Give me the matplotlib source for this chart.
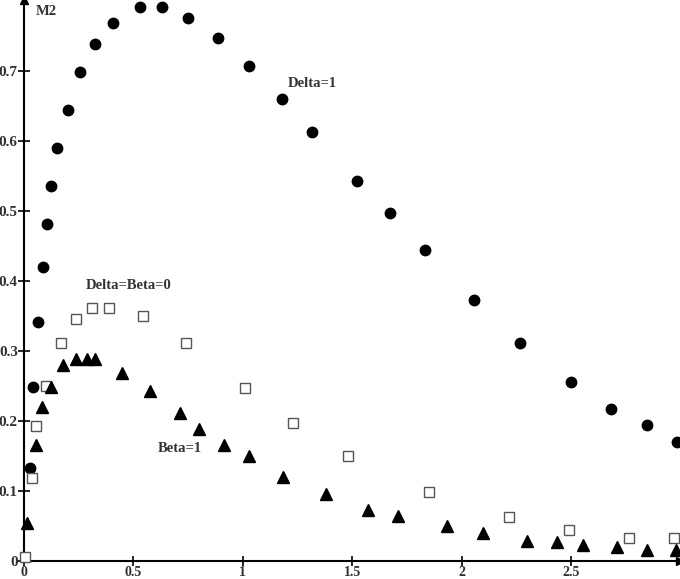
import matplotlib
matplotlib.use("Agg")
import matplotlib.pyplot as plt

# Delta=1 (filled circles)
d1_x = [0.027, 0.041, 0.064, 0.087, 0.105, 0.123, 0.151, 0.201, 0.256, 0.324, 0.406,
        0.53, 0.63, 0.749, 0.886, 1.027, 1.178, 1.315, 1.521, 1.671, 1.831, 2.055,
        2.269, 2.502, 2.685, 2.849, 2.986]
d1_y = [0.133, 0.249, 0.341, 0.42, 0.481, 0.536, 0.59, 0.644, 0.699, 0.738, 0.768,
        0.791, 0.791, 0.776, 0.747, 0.707, 0.66, 0.613, 0.543, 0.497, 0.444, 0.373,
        0.311, 0.256, 0.217, 0.194, 0.170]

# Delta=Beta=0 (open squares)
d0_x = [0.003, 0.035, 0.055, 0.10, 0.168, 0.237, 0.311, 0.388, 0.543, 0.74, 1.009,
        1.228, 1.479, 1.849, 2.215, 2.493, 2.763, 2.973]
d0_y = [0.006, 0.119, 0.193, 0.25, 0.311, 0.346, 0.361, 0.361, 0.35, 0.311, 0.247,
        0.197, 0.15, 0.098, 0.063, 0.044, 0.033, 0.033]

# Beta=1 (filled triangles)
b1_x = [0.014, 0.055, 0.082, 0.123, 0.178, 0.237, 0.288, 0.324, 0.447, 0.575, 0.712,
        0.799, 0.913, 1.027, 1.183, 1.379, 1.571, 1.708, 1.931, 2.096, 2.301, 2.434,
        2.557, 2.712, 2.849, 2.982]
b1_y = [0.054, 0.166, 0.22, 0.249, 0.28, 0.288, 0.288, 0.288, 0.269, 0.243, 0.212,
        0.188, 0.166, 0.15, 0.12, 0.096, 0.073, 0.064, 0.05, 0.04, 0.029, 0.027,
        0.023, 0.02, 0.016, 0.016]

x_ticks = [0, 0.5, 1, 1.5, 2, 2.5]
x_tick_labels = ["0", "0.5", "1", "1.5", "2", "2.5"]
y_ticks = [0, 0.1, 0.2, 0.3, 0.4, 0.5, 0.6, 0.7]
y_tick_labels = ["0", "0.1", "0.2", "0.3", "0.4", "0.5", "0.6", "0.7"]

plt.rcParams['font.family'] = ['Liberation Serif', 'DejaVu Serif']
plt.rcParams['font.weight'] = 'bold'

fig = plt.figure(figsize=(6.8, 5.79), dpi=100)
ax = fig.add_axes([24/680, 18/579, 1 - 24/680, 1 - 18/579])
ax.set_xlim(0, 656/218.8)
ax.set_ylim(0, 561/700)

ax.plot(d1_x, d1_y, 'o', color='black', markersize=7.5, clip_on=False, zorder=3)
ax.plot(d0_x, d0_y, 's', mfc='white', mec='#555555', mew=1.0, markersize=7.5,
        clip_on=False, zorder=3)
ax.plot(b1_x, b1_y, '^', color='black', markersize=8, clip_on=False, zorder=3)

for s in ['top', 'right']:
    ax.spines[s].set_visible(False)
for s in ['left', 'bottom']:
    ax.spines[s].set_linewidth(1.5)
    ax.spines[s].set_color('black')

# arrows at the axis ends
ax.plot([0], [1], marker='^', color='black', markersize=6, transform=ax.transAxes,
        clip_on=False)
ax.plot([1], [0], marker='>', color='black', markersize=6, transform=ax.transAxes,
        clip_on=False)

ax.set_xticks(x_ticks)
ax.set_xticklabels(x_tick_labels)
ax.set_yticks(y_ticks)
ax.set_yticklabels(y_tick_labels)
ax.tick_params(axis='x', direction='inout', length=7, width=1.2, labelsize=10,
               colors='black', labelcolor='#333333', pad=0)
ax.tick_params(axis='y', direction='inout', length=9, width=1.2, labelsize=11,
               colors='black', labelcolor='#333333', pad=0)
for lbl in ax.get_xticklabels() + ax.get_yticklabels():
    lbl.set_fontweight('bold')

txt = dict(fontsize=10.5, fontweight='bold', color='#333333')
ax.text(0.055, 0.785, "M2", ha='left', va='center', **txt)
ax.text(1.205, 0.682, "Delta=1", ha='left', va='center', **txt)
ax.text(0.28, 0.393, "Delta=Beta=0", ha='left', va='center', **txt)
ax.text(0.61, 0.161, "Beta=1", ha='left', va='center', **txt)

fig.savefig("out.png", dpi=100)
